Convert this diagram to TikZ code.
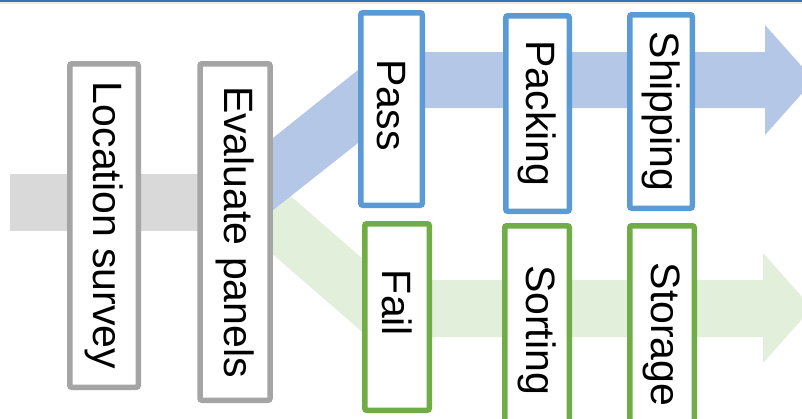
\documentclass[tikz,border=0pt]{standalone}
\usepackage{fontspec}
\setmainfont{Liberation Sans}
\usepackage{tikz}
\definecolor{boxgray}{HTML}{A5A5A5}
\definecolor{bargray}{HTML}{D9D9D9}
\definecolor{boxblue}{HTML}{5B9BD5}
\definecolor{bandblue}{HTML}{B4C7E7}
\definecolor{boxgreen}{HTML}{70AD47}
\definecolor{bandgreen}{HTML}{E2EFDA}
\definecolor{topblue}{HTML}{2E75B6}
\tikzset{
    stepnode/.style={rectangle, rounded corners=2pt, fill=white, line width=5.5pt, rotate=-90, inner sep=0pt, font=\fontsize{41}{41}\selectfont, text centered},
    graynode/.style={stepnode, draw=boxgray},
    bluenode/.style={stepnode, draw=boxblue},
    greennode/.style={stepnode, draw=boxgreen}
}

\begin{document}
\begin{tikzpicture}[x=1pt, y=-1pt]
\useasboundingbox (0,0) rectangle (802,418);
\clip (0,0) rectangle (802,418);
% top rule
\fill[topblue] (0,0) rectangle (802,2);
\fill[gray!15] (0,2) rectangle (802,4);
% flows
\fill[bargray] (10,174) rectangle (235,231);
\fill[bandgreen] (235,147.5) -- (387,280) -- (763,280) -- (763,253) -- (812,308) -- (763,363) -- (763,337) -- (368,337) -- (235,221.5) -- cycle;
\fill[bandblue] (235,168.4) -- (380.5,52) -- (765,52) -- (765,25) -- (814,80) -- (765,135) -- (765,108) -- (402.3,108) -- (235,240.2) -- cycle;
% steps
\node[graynode, minimum width=323.5pt, minimum height=68.5pt] (survey) at (104,225.5) {Location survey};
\node[graynode, minimum width=336.5pt, minimum height=70pt] (evaluate) at (235,232) {Evaluate panels};
\node[bluenode, minimum width=192.5pt, minimum height=61.5pt] (pass) at (391.5,109) {Pass\hspace*{8pt}};
\node[bluenode, minimum width=195.5pt, minimum height=63.5pt] (packing) at (537.5,113.5) {Packing};
\node[bluenode, minimum width=193.5pt, minimum height=62.5pt] (shipping) at (661,111.5) {Shipping};
\node[greennode, minimum width=186.5pt, minimum height=64.5pt] (fail) at (397,317) {Fail\hspace*{28pt}};
\node[greennode, minimum width=208.5pt, minimum height=64.5pt] (sorting) at (537,330) {Sorting};
\node[greennode, minimum width=217.5pt, minimum height=64.5pt] (storage) at (662,334.5) {Storage};
\end{tikzpicture}
\end{document}
